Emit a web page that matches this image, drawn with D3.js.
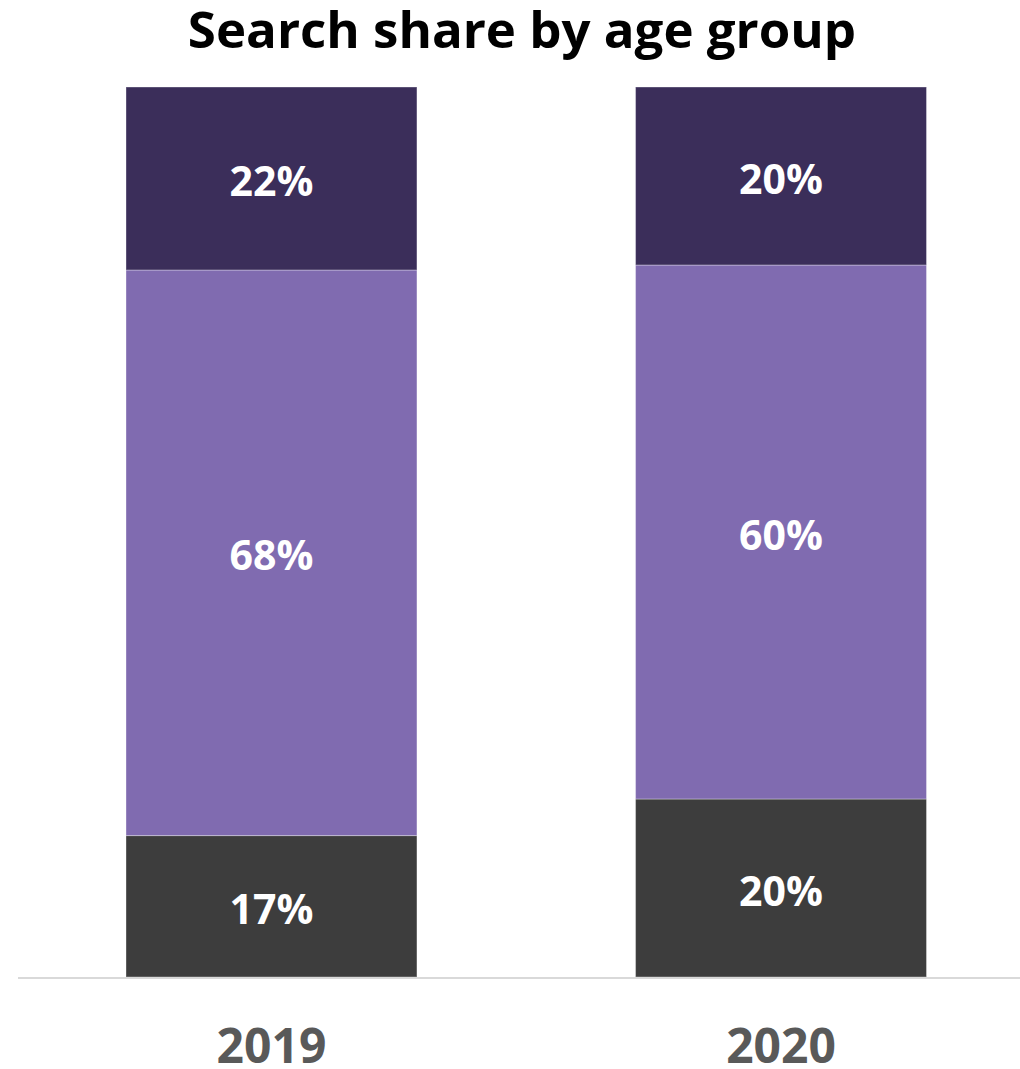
<!DOCTYPE html>
<html>
<head>
<meta charset="utf-8">
<script src="https://cdn.jsdelivr.net/npm/d3@7"></script>
<style>
  html, body { margin: 0; padding: 0; background: #ffffff; }
  svg { display: block; }
  text { font-family: "Open Sans", "Noto Sans", "DejaVu Sans", sans-serif; }
</style>
</head>
<body>
<svg id="chart" width="1020" height="1069"></svg>
<script>
// Survey years shown as columns
const years = ["2019", "2020"];
// Age-group shares (percent), stacked bottom to top
const groupKeys = ["lower", "middle", "upper"];
const lowerShare = [17, 20];
const middleShare = [68, 60];
const upperShare = [22, 20];
const groupColors = ["#3d3d3d", "#806bb0", "#3b2e5a"];
const titleText = "Search share by age group";

const rows = years.map((y, i) => ({
  year: y,
  lower: lowerShare[i],
  middle: middleShare[i],
  upper: upperShare[i]
}));

const svg = d3.select("#chart");
const baseY = 977, topY = 87;

const x = d3.scaleBand()
  .domain(years)
  .range([126, 926.5])
  .paddingInner(0.429)
  .paddingOuter(0);

const y = d3.scaleLinear().domain([0, 1]).range([baseY, topY]);

const color = d3.scaleOrdinal().domain(groupKeys).range(groupColors);

// Each column fills the full height (shares normalised per year)
const stacked = d3.stack()
  .keys(groupKeys)
  .offset(d3.stackOffsetExpand)(rows);

// Title
svg.append("text")
  .attr("x", 522)
  .attr("y", 48)
  .attr("text-anchor", "middle")
  .attr("font-size", 51)
  .attr("font-weight", 700)
  .attr("fill", "#000000")
  .text(titleText);

const layers = svg.append("g")
  .selectAll("g")
  .data(stacked)
  .join("g")
  .attr("fill", d => color(d.key));

layers.selectAll("rect")
  .data(d => d)
  .join("rect")
  .attr("x", d => x(d.data.year))
  .attr("width", x.bandwidth())
  .attr("y", d => y(d[1]))
  .attr("height", d => y(d[0]) - y(d[1]))
  .attr("stroke", "#ffffff")
  .attr("stroke-opacity", 0.35)
  .attr("stroke-width", 1);

// Value labels centred in each segment
layers.each(function (layer) {
  d3.select(this).selectAll("text")
    .data(layer)
    .join("text")
    .attr("x", d => x(d.data.year) + x.bandwidth() / 2)
    .attr("y", d => (y(d[0]) + y(d[1])) / 2 + 3)
    .attr("dy", "0.357em")
    .attr("text-anchor", "middle")
    .attr("font-size", 41)
    .attr("font-weight", 700)
    .attr("fill", "#ffffff")
    .text(d => d.data[layer.key] + "%");
});

// Baseline
svg.append("line")
  .attr("x1", 18).attr("x2", 1020)
  .attr("y1", baseY + 1).attr("y2", baseY + 1)
  .attr("stroke", "#d9d9d9")
  .attr("stroke-width", 2);

// Category axis
const axis = svg.append("g")
  .attr("transform", `translate(0,${baseY})`)
  .call(d3.axisBottom(x).tickSize(0).tickPadding(0));
axis.select(".domain").remove();
axis.selectAll("text")
  .attr("y", 86)
  .attr("dy", 0)
  .attr("font-size", 48)
  .attr("font-weight", 700)
  .attr("fill", "#595959")
  .attr("font-family", "\"Open Sans\", \"Noto Sans\", sans-serif");
</script>
</body>
</html>
